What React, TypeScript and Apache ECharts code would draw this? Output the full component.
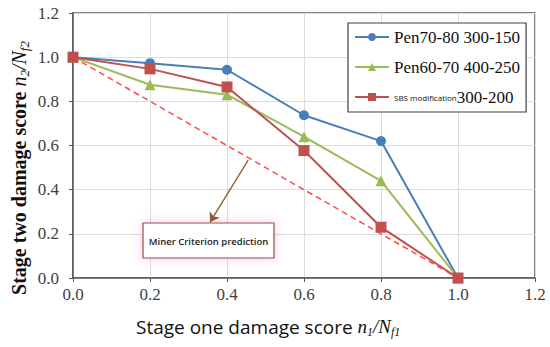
import React, { useEffect, useRef } from "react";
import * as echarts from "echarts";

const xValues = [0, 0.2, 0.4, 0.6, 0.8, 1.0];
const pen7080 = [1.0, 0.973, 0.943, 0.737, 0.62, 0.0];
const pen6070 = [1.0, 0.875, 0.83, 0.64, 0.44, 0.0];
const sbs = [1.0, 0.947, 0.865, 0.577, 0.23, 0.0];
const minerLine = [[0, 1], [1, 0]];
const seriesNames = ["Pen70-80 300-150", "Pen60-70 400-250", "SBS modification 300-200"];
const arrowFrom = [0.455, 0.534];
const arrowTo = [0.356, 0.253];

const pair = (ys: number[]) => xValues.map((x, i) => [x, ys[i]]);

export default function App() {
  const ref = useRef<HTMLDivElement>(null);
  useEffect(() => {
    if (!ref.current) return;
    const chart = echarts.init(ref.current, undefined, { renderer: "svg" });
    const serif = "Liberation Serif";
    const sans = "Open Sans";
    const axisColor = "#595959";
    chart.setOption({
      animation: false,
      backgroundColor: "#ffffff",
      grid: { left: 73, right: 15, top: 13, bottom: 69, show: true, borderColor: axisColor, borderWidth: 1.5 },
      xAxis: {
        type: "value", min: 0, max: 1.2, interval: 0.2,
        axisLine: { show: true, lineStyle: { color: axisColor, width: 1.5 } },
        axisTick: { show: true, length: 4, lineStyle: { color: axisColor } },
        axisLabel: { color: "#404040", fontFamily: serif, fontSize: 17, margin: 8, formatter: (v: number) => v.toFixed(1) },
        splitLine: { show: true, lineStyle: { color: "#dcdcdc", width: 1 } },
      },
      yAxis: {
        type: "value", min: 0, max: 1.2, interval: 0.2,
        axisLine: { show: true, lineStyle: { color: axisColor, width: 1.5 } },
        axisTick: { show: true, length: 4, lineStyle: { color: axisColor } },
        axisLabel: { color: "#404040", fontFamily: serif, fontSize: 17, margin: 14, formatter: (v: number) => v.toFixed(1) },
        splitLine: { show: true, lineStyle: { color: "#dcdcdc", width: 1 } },
      },
      legend: {
        data: seriesNames,
        orient: "vertical",
        left: 348, top: 23,
        padding: [4, 6, 5, 6],
        itemGap: 10,
        itemWidth: 34, itemHeight: 10,
        borderColor: "#404040", borderWidth: 1.2,
        backgroundColor: "#ffffff",
        formatter: (name: string) =>
          name.startsWith("SBS") ? "{sm|SBS modification}{big|300-200}" : name,
        textStyle: {
          fontFamily: serif, fontSize: 17, color: "#111", lineHeight: 20,
          rich: {
            big: { fontFamily: serif, fontSize: 17, color: "#111", lineHeight: 20 },
            sm: { fontFamily: sans, fontSize: 8, color: "#111", lineHeight: 20 },
          },
        },
      },
      graphic: [
        {
          type: "rect", shape: { x: 143, y: 223, width: 131, height: 35 },
          style: { fill: "#ffffff", stroke: "#8B5A2B", lineWidth: 1.2, shadowBlur: 10, shadowColor: "rgba(255,80,200,0.35)" },
          z: 100,
        },
        {
          type: "text", x: 208.5, y: 241, z: 101,
          style: { text: "Miner Criterion prediction", fontFamily: sans, fontSize: 9.5, fontWeight: 600, fill: "#222", align: "center", verticalAlign: "middle" },
        },
        {
          type: "text", x: 136, y: 310, z: 101,
          style: {
            text: "{a|Stage one damage score }{i|n}{s|1}{i|/N}{s|f1}",
            rich: {
              a: { fontFamily: sans, fontSize: 19, fill: "#111", lineHeight: 26, verticalAlign: "bottom" },
              i: { fontFamily: serif, fontStyle: "italic", fontSize: 19, fill: "#111", lineHeight: 26, verticalAlign: "bottom" },
              s: { fontFamily: serif, fontStyle: "italic", fontSize: 12, fill: "#111", lineHeight: 26, verticalAlign: "bottom", padding: [0, 0, -2, 0] },
            },
          },
        },
        {
          type: "text", x: 16, y: 168, rotation: Math.PI / 2, z: 101,
          style: {
            text: "{a|Stage two damage score }{i|n}{s|2}{i|/N}{s|f2}",
            align: "center", verticalAlign: "middle",
            rich: {
              a: { fontFamily: serif, fontWeight: "bold", fontSize: 20, fill: "#111", lineHeight: 26, verticalAlign: "bottom" },
              i: { fontFamily: serif, fontStyle: "italic", fontSize: 20, fill: "#111", lineHeight: 26, verticalAlign: "bottom" },
              s: { fontFamily: serif, fontStyle: "italic", fontSize: 13, fill: "#111", lineHeight: 26, verticalAlign: "bottom", padding: [0, 0, -2, 0] },
            },
          },
        },
      ],
      series: [
        {
          name: "Miner", type: "line", data: minerLine, showSymbol: false, symbol: "none",
          lineStyle: { color: "#ff4a4a", width: 1.5, type: [6, 4] }, z: 2,
          markLine: {
            silent: true, symbol: ["none", "arrow"], symbolSize: 9,
            label: { show: false },
            lineStyle: { color: "#8B5A2B", width: 1.3, type: "solid" },
            data: [[{ coord: arrowFrom }, { coord: arrowTo }]],
          },
        },
        {
          name: seriesNames[0], type: "line", data: pair(pen7080), symbol: "circle", symbolSize: 10,
          itemStyle: { color: "#4A7EBB" }, lineStyle: { color: "#4A7EBB", width: 2 }, z: 3,
        },
        {
          name: seriesNames[1], type: "line", data: pair(pen6070), symbol: "triangle", symbolSize: 11,
          itemStyle: { color: "#9BBB59" }, lineStyle: { color: "#9BBB59", width: 2 }, z: 4,
        },
        {
          name: seriesNames[2], type: "line", data: pair(sbs), symbol: "rect", symbolSize: 11,
          itemStyle: { color: "#C0504D" }, lineStyle: { color: "#C0504D", width: 2 }, z: 5,
        },
      ],
    });
    return () => chart.dispose();
  }, []);
  return <div ref={ref} style={{ width: 550, height: 347, position: "absolute", left: 0, top: 0 }} />;
}
